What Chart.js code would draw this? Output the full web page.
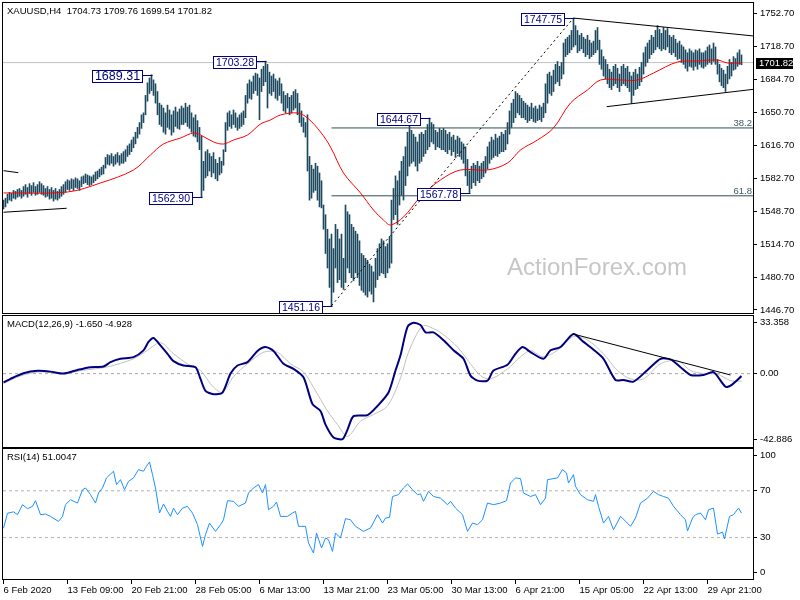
<!DOCTYPE html>
<html><head><meta charset="utf-8">
<script src="https://cdn.jsdelivr.net/npm/chart.js@4/dist/chart.umd.min.js"></script>
<style>
html,body{margin:0;padding:0;background:#fff;width:800px;height:600px;overflow:hidden}
canvas{position:absolute;left:0}
</style></head><body>
<canvas id="cMain" width="800" height="316" style="top:0px"></canvas>
<canvas id="cMacd" width="800" height="137" style="top:313px"></canvas>
<canvas id="cRsi" width="800" height="153" style="top:447px"></canvas>
<script>
// ---------- DATA ----------
const symbolName = 'XAUUSD,H4';
const lastOHLC = [1704.73, 1709.76, 1699.54, 1701.82];
const priceTicks = [1752.70,1718.70,1684.70,1650.70,1616.70,1582.70,1548.70,1514.70,1480.70,1446.70];
const xTickIdx = [0,32,64,96,128,160,192,224,256,288,320,352];
const xTickLabels = ['6 Feb 2020','13 Feb 09:00','20 Feb 21:00','28 Feb 05:00','6 Mar 13:00','13 Mar 21:00','23 Mar 05:00','30 Mar 13:00','6 Apr 21:00','15 Apr 05:00','22 Apr 13:00','29 Apr 21:00'];

const highs = [
1560,1562,1566,1568,1567,1570,1569,1571,1572,1570,
1574,1576,1573,1577,1575,1578,1574,1576,1579,1577,
1575,1572,1574,1571,1573,1570,1572,1569,1571,1574,
1576,1579,1581,1580,1582,1581,1583,1582,1580,1584,
1585,1587,1586,1585,1584,1586,1589,1590,1592,1594,
1596,1604,1607,1606,1608,1605,1607,1609,1606,1608,
1610,1612,1616,1618,1622,1625,1630,1635,1640,1648,
1650,1668,1681,1686,1689.31,1684,1680,1672,1660,1658,
1655,1650,1658,1653,1648,1652,1656,1651,1654,1657,
1655,1660,1656,1658,1650,1645,1648,1642,1635,1626,
1600,1610,1612,1608,1605,1609,1602,1598,1604,1600,
1612,1640,1650,1652,1648,1653,1650,1645,1648,1650,
1652,1668,1680,1684,1682,1688,1691,1690,1686,1695,
1698,1703.28,1700,1692,1688,1690,1685,1683,1686,1680,
1672,1668,1670,1666,1668,1672,1674,1670,1660,1652,
1645,1640,1648,1605,1596,1592,1598,1595,1588,1580,
1555,1545,1530,1520,1525,1510,1535,1530,1520,1525,
1500,1555,1548,1545,1535,1532,1528,1525,1518,1505,
1503,1500,1498,1494,1492,1486,1500,1510,1515,1520,
1518,1512,1515,1522,1560,1572,1585,1580,1590,1600,
1605,1615,1630,1640,1632,1628,1625,1620,1628,1630,
1628,1632,1638,1644.67,1640,1638,1632,1630,1634,1632,
1634,1632,1628,1630,1625,1627,1622,1626,1624,1620,
1618,1615,1602,1590,1595,1598,1596,1600,1595,1598,
1600,1605,1615,1620,1625,1622,1628,1624,1626,1630,
1628,1632,1640,1652,1660,1664,1672,1670,1668,1665,
1662,1660,1658,1656,1660,1655,1657,1654,1658,1656,
1660,1680,1690,1692,1688,1694,1700,1703,1698,1702,
1722,1726,1728,1730,1735,1747.75,1740,1735,1730,1732,
1728,1726,1730,1725,1722,1724,1735,1738,1725,1715,
1708,1705,1700,1695,1692,1698,1700,1696,1690,1698,
1700,1696,1698,1692,1688,1692,1695,1690,1697,1702,
1712,1718,1722,1725,1730,1728,1735,1740,1736,1732,
1738,1735,1737,1730,1728,1730,1726,1722,1724,1720,
1718,1715,1712,1716,1714,1712,1715,1714,1716,1712,
1712,1714,1718,1720,1716,1722,1718,1705,1700,1696,
1694,1690,1698,1705,1702,1708,1706,1712,1715,1709.76
];
const lows = [
1551,1553,1557,1560,1559,1562,1561,1563,1564,1562,
1564,1566,1563,1567,1565,1568,1565,1566,1568,1566,
1565,1563,1564,1561,1562,1559,1561,1560,1562,1564,
1566,1568,1571,1570,1572,1570,1573,1572,1570,1574,
1577,1578,1576,1575,1576,1578,1580,1582,1584,1586,
1587,1593,1597,1596,1598,1595,1597,1599,1596,1598,
1598,1600,1605,1607,1610,1614,1618,1624,1628,1634,
1640,1648,1662,1670,1673,1668,1660,1648,1638,1636,
1630,1628,1635,1633,1627,1630,1636,1634,1633,1638,
1638,1640,1636,1634,1630,1626,1625,1620,1612,1562.90,
1570,1583,1585,1590,1584,1588,1582,1580,1586,1588,
1596,1610,1632,1636,1634,1638,1635,1632,1634,1636,
1638,1645,1660,1665,1664,1670,1673,1668,1643,1672,
1678,1682,1655,1670,1668,1672,1665,1663,1668,1660,
1652,1650,1655,1648,1650,1653,1655,1648,1640,1636,
1630,1625,1590,1560,1562,1568,1570,1560,1553,1552,
1530,1505,1490,1470,1451.16,1465,1490,1475,1478,1470,
1468,1475,1490,1485,1480,1477,1485,1480,1472,1467,
1465,1462,1460,1466,1463,1455,1470,1478,1482,1485,
1484,1480,1485,1490,1495,1540,1545,1535,1555,1565,
1560,1575,1585,1595,1598,1600,1595,1590,1598,1600,
1605,1608,1612,1615,1620,1618,1612,1615,1614,1612,
1612,1610,1608,1612,1606,1610,1604,1608,1605,1602,
1598,1585,1575,1567.78,1572,1578,1575,1580,1578,1582,
1584,1588,1592,1598,1602,1604,1606,1605,1608,1610,
1610,1612,1618,1628,1635,1640,1645,1650,1648,1645,
1645,1643,1640,1642,1644,1641,1640,1642,1643,1641,
1645,1650,1660,1670,1668,1672,1680,1682,1678,1685,
1690,1708,1710,1712,1715,1718,1720,1712,1714,1716,
1712,1708,1710,1706,1708,1710,1712,1715,1700,1695,
1688,1685,1680,1676,1674,1678,1680,1676,1672,1678,
1680,1678,1676,1672,1660,1668,1674,1675,1678,1682,
1690,1698,1702,1706,1710,1712,1715,1718,1716,1714,
1716,1715,1718,1712,1710,1712,1708,1705,1706,1702,
1700,1696,1693,1698,1697,1694,1698,1695,1700,1697,
1696,1698,1700,1702,1700,1703,1700,1690,1682,1678,
1676,1672,1680,1685,1688,1694,1695,1698,1700,1699.54
];

// moving average (bar index, value)
const maX = [0,32,48.5,65,73.5,80,88.5,95,98.5,105,110,115,122,128.5,133.5,138.5,147,152,158.5,163.5,170,178.5,185,190,193.5,200,208.5,218.5,228.5,242,252,258.5,267,275,283.5,292,298.5,308.5,317,325,337,347,357,362,369];
const maY = [1567.4,1568.4,1577.7,1591.1,1606.6,1617.9,1624.1,1629.3,1627.2,1620,1617.9,1622,1627.2,1638.5,1642.7,1647.8,1649.9,1644.7,1630.3,1614.8,1588,1567.4,1549.8,1539.5,1534.4,1542.6,1563.3,1580.8,1591.1,1591.1,1598.3,1611.7,1622,1634.4,1660.2,1673.6,1683.9,1683.9,1683.9,1691.1,1702.5,1703.5,1704.5,1701.4,1701.4];

// labelled swing points
const markIdx = [74,131,99,164,213,233,285];
const markPrice = [1689.31,1703.28,1562.90,1451.16,1644.67,1567.78,1747.75];

// fibonacci levels
const fibNames = ['38.2','61.8'];
const fibLevels = [1634.45,1564.46];
const fibStartIdx = 164;

// trend lines [barIndex, price]
const trendUpper = [[285,1747.75],[375,1729.3]];
const trendLower = [[301.6,1656.4],[375,1674.3]];
const trendLeftA = [[0,1590.4],[7.4,1588.3]];
const trendLeftB = [[0,1547.5],[31.6,1551.6]];
const dashedSwing = [[164,1451.16],[285,1747.75]];

// MACD
const macdLast = [-1.650,-4.928];
const macdTicks = [33.358,0,-42.886];
const macdTickLabels = ['33.358','0.00','-42.886'];
const macdX = [0,3.5,10,17,23.5,30,37,43.5,50,53.5,58.5,65,70,72.5,75,77.5,82,85,90,96,98.5,101,105,109.5,113.5,117,122,127,131,135,140,145,150,154.5,158.5,161,165,169.5,172,175,182,187,192.5,196,198.5,202,205,208.5,211,215,220,225,230,233.5,237,242,245,252,256,259.5,263.5,270,273.5,278.5,285,290,295,300,306,310,315,322,328.5,333.5,338.5,343.5,350,355,361,363.5,369];
const macdY = [-5.8,-3.4,0.2,1.8,1.3,0,2.4,4.2,4.6,7.5,9.7,10.8,15.2,20.8,23.4,20,13,8.2,5.3,4.2,-3.5,-11.3,-13.5,-12.4,0,5.3,7.5,14.8,17.4,14.8,6.4,3.1,-2.4,-20,-24.5,-33.4,-41.8,-42.9,-36.7,-27.9,-27.2,-21.2,-12.4,2,12,30.7,33.36,31.8,27,27,21.9,15.3,9.7,-1.3,-4.6,-4.6,2,5.8,13,17.4,14.1,9.7,15.3,17.4,25.9,20.8,15.7,9.7,-4.2,-4.2,-5.3,2.4,9.7,9.3,4.2,-0.9,-0.9,0.9,-8.6,-7.9,-1.65];
const sigX = [0,8.5,18.5,28.5,40,52,65,72,78.5,85,92,98.5,105,109.5,115,122,130,137,143.5,150,155,162,167,172,178.5,185,192,198.5,202.5,209.5,215,220,227,233.5,238.5,243.5,252,258.5,263.5,270,277,285,292,300,307,313.5,320,328.5,337,343.5,350,357,363.5,369];
const sigY = [-6.5,-1.5,1.2,0,2.2,4.4,9.7,15.3,20.3,13,6.4,2,-9,-12.3,-2,6.4,14,14,6.4,1.1,-9,-24.5,-33.4,-41.2,-31.2,-26.8,-21.2,-3,14,31.2,29.5,25.5,17.4,6.4,-1.3,-3.5,3.1,11,15,11,15.3,24.3,22,13,2,-3.5,-3.5,6.4,8.6,2,0,-0.4,-4.6,-4.93];
const macdTrend = [[285,25.9],[363.5,-0.9]];

// RSI
const rsiLast = 51.0047;
const rsiTicks = [100,70,30,0];
const rsiLevels = [70,30];
const rsiX = [0,2,5,7,9.5,12,14.5,16,18.5,21,23.5,27.5,29.5,31,33.5,37,39.5,41,43.5,46,47.5,49.5,51.5,55,56.5,58.5,60.5,62.5,65,67.5,70,71.5,73,74.5,76,78,80,82,83.5,85,87,89.5,92,94.5,97,99.5,101,103,106,108.5,110,112,115,117.5,121,122.5,125,127.5,129.5,131,132.5,135,136.5,138.5,142,144.5,146,147.5,151,152.5,155,156.5,159,161,162.5,164.5,166,168.5,171,173.5,176,180,183.5,187,189.5,191,193,194.5,197.5,200,202,204.5,207,208.5,210,212.5,215,218.5,222,223.5,226,229.5,232,234.5,237,239.5,242,245,248.5,251.5,253.5,256,258.5,260,263.5,266,268.5,271,272,277,279.5,281.5,282.5,285,286,288.5,292,295,296,297.5,300,302.5,305,308.5,311,313.5,316,318.5,322,325,327.5,330,332.5,335,338.5,341,342,344.5,346,348.5,351,352.5,355,357,359.5,360.5,363,365,367.5,369];
const rsiY = [38,50.8,52,49.6,58.1,54.7,56.7,61.5,49.6,50.1,48.1,43.8,48.1,58.1,62.3,59.5,70.9,72.4,66.7,59.5,68.1,72.4,81,86.7,75.3,79.5,70.9,78.1,81,88.1,86.7,91,94.6,83.8,72.4,51,58.7,52.4,48.1,55.2,49.6,55.2,56.7,50.9,41,22.5,32.5,42.4,35.3,41,45.2,61.5,61,56.7,59.5,68.1,72.4,75.3,68.1,75.3,53.8,56.7,60.4,48.1,48.1,51,52.4,39.6,39.6,25.4,16.8,33.9,21.1,29.6,28.2,18.2,33.9,29.6,46.2,45.2,39.6,35.3,38.2,49.6,42.4,46.7,47.2,65.1,66.7,72.4,75.8,70.9,66.7,67.3,61,69.5,65.1,63.7,58.1,61,55.2,49.6,35.3,42.4,41,45.2,59.5,58.1,59.5,61.5,76.6,81,80.4,68.1,65.1,66.7,58.1,63.7,79.5,81,88.1,85.2,76.6,83.8,73.8,66.7,62.3,61,66.7,56.7,42.4,48.1,36.7,48.1,44,39.6,46.7,59.5,63.7,69.5,66.7,65.1,63.7,56.7,49.6,45.2,35.6,46.7,49.6,51,45.2,53.8,55.2,33,34.7,28.8,48.1,49.6,55.2,51];

// ---------- LAYOUT / STYLE ----------
const FAM = '"Liberation Sans", Arial, sans-serif';
const FONT_S = '9.5px ' + FAM;
const BAR_COLOR = '#1d4a60';
const X_MIN = -0.25, X_MAX = 374.75;
const MAIN_RANGE = [1443.6, 1763.3];
const MACD_RANGE = [-48.1, 37.75];
const RSI_RANGE = [-5.4, 105.7];
const markFontSize = [12.5,10.5,10.5,10.5,10.5,10.5,10.5];

Chart.defaults.font.family = FAM;
Chart.defaults.font.size = 9.5;
Chart.defaults.color = '#000';

const xy = (xs, ys) => xs.map((x, k) => ({x, y: ys[k]}));
const pairs = arr => arr.map(p => ({x: p[0], y: p[1]}));
function lineDS(points, color, width, extra) {
  return Object.assign({type: 'line', data: points, borderColor: color, borderWidth: width,
    pointRadius: 0, fill: false, tension: 0}, extra || {});
}
function zeroPad(s) { s.paddingLeft = 0; s.paddingRight = 0; s.paddingTop = 0; s.paddingBottom = 0; }
function xScale(show) {
  return {
    type: 'linear', min: X_MIN, max: X_MAX, offset: false, display: show,
    grid: {display: show, drawOnChartArea: false, drawTicks: true, tickLength: 5, color: '#000', offset: false},
    border: {display: show, color: '#000'},
    ticks: {display: show, autoSkip: false, maxRotation: 0, minRotation: 0, align: 'start', padding: 1,
      color: '#000', font: {size: 9.5}, callback: (v, i) => (xTickLabels[i] !== undefined ? xTickLabels[i] : '')},
    afterBuildTicks: s => { s.ticks = xTickIdx.map(v => ({value: v})); },
    afterFit: s => { s.height = show ? 21 : 0; zeroPad(s); }
  };
}
function yScale(range, ticks, labels) {
  return {
    type: 'linear', position: 'right', min: range[0], max: range[1], beginAtZero: false,
    grid: {drawOnChartArea: false, drawTicks: true, tickLength: 4, color: '#000'},
    border: {display: true, color: '#000'},
    ticks: {autoSkip: false, padding: 3, color: '#000', font: {size: 9.5}, callback: (v, i) => labels[i]},
    afterBuildTicks: s => { s.ticks = ticks.map(v => ({value: v})); },
    afterFit: s => { s.width = 47; zeroPad(s); }
  };
}
function frame(chart) {
  const {ctx, chartArea: a} = chart;
  ctx.save();
  ctx.strokeStyle = '#000'; ctx.lineWidth = 1;
  ctx.strokeRect(a.left - 0.5, a.top - 0.5, a.width + 1, a.height + 1);
  ctx.restore();
}
function headText(chart, txt) {
  const {ctx, chartArea: a} = chart;
  ctx.save();
  ctx.font = FONT_S; ctx.fillStyle = '#000'; ctx.textAlign = 'left'; ctx.textBaseline = 'alphabetic';
  ctx.fillText(txt, a.left + 4, a.top + 11);
  ctx.restore();
}
const baseOpts = {
  responsive: false, animation: false, events: [],
  plugins: {legend: {display: false}, tooltip: {enabled: false}}
};

// ---------- MAIN PRICE CHART ----------
const lastClose = lastOHLC[3];
const mainDecor = {
  id: 'mainDecor',
  beforeDatasetsDraw(chart) {
    const {ctx, chartArea: a} = chart;
    ctx.save();
    ctx.font = '24px ' + FAM; ctx.fillStyle = '#c6c6c6';
    ctx.textAlign = 'center'; ctx.textBaseline = 'alphabetic';
    ctx.fillText('ActionForex.com', a.right - 156, a.bottom - 38);
    ctx.restore();
  },
  afterDatasetsDraw(chart) {
    const {ctx, chartArea: a, scales: {x, y}} = chart;
    ctx.save();
    ctx.font = FONT_S; ctx.fillStyle = '#3b5a6a'; ctx.textAlign = 'right'; ctx.textBaseline = 'alphabetic';
    fibLevels.forEach((l, k) => ctx.fillText(fibNames[k], a.right - 1, y.getPixelForValue(l) - 2));
    markIdx.forEach((idx, k) => {
      const px = Math.round(x.getPixelForValue(idx));
      const py = Math.round(y.getPixelForValue(markPrice[k])) + 0.5;
      const fs = markFontSize[k];
      ctx.font = fs + 'px ' + FAM;
      const txt = markPrice[k].toFixed(2);
      const w = Math.round(ctx.measureText(txt).width) + 5;
      const h = 12;
      const bx = px - 10 - w + 0.5;
      const by = Math.round(py - h / 2) + 0.5;
      ctx.strokeStyle = '#000080'; ctx.lineWidth = 1;
      ctx.beginPath(); ctx.moveTo(bx + w, py); ctx.lineTo(px + 0.5, py); ctx.stroke();
      ctx.fillStyle = '#fff'; ctx.fillRect(bx, by, w, h);
      ctx.strokeRect(bx, by, w, h);
      ctx.fillStyle = '#000080'; ctx.textAlign = 'center'; ctx.textBaseline = 'middle';
      ctx.fillText(txt, bx + w / 2, by + h / 2 + 0.5);
    });
    ctx.restore();
  },
  afterDraw(chart) {
    const {ctx, chartArea: a, scales: {y}} = chart;
    frame(chart);
    headText(chart, symbolName + '  ' + lastOHLC.map(v => v.toFixed(2)).join(' '));
    const py = Math.round(y.getPixelForValue(lastClose));
    ctx.save();
    ctx.fillStyle = '#000'; ctx.fillRect(a.right + 3, py - 5, 37, 11);
    ctx.fillStyle = '#fff'; ctx.font = FONT_S; ctx.textAlign = 'left'; ctx.textBaseline = 'middle';
    ctx.fillText(lastClose.toFixed(2), a.right + 6, py + 0.5);
    ctx.restore();
  }
};
new Chart(document.getElementById('cMain'), {
  type: 'bar',
  data: {datasets: [
    lineDS([{x: X_MIN, y: lastClose}, {x: X_MAX, y: lastClose}], '#c0c0c0', 1, {order: 9}),
    {type: 'bar', data: highs.map((h, i) => ({x: i, y: [lows[i], h]})), backgroundColor: BAR_COLOR,
     borderWidth: 0, barThickness: 1, grouped: false, order: 5},
    lineDS(xy(maX, maY), '#ff0000', 1, {order: 4, tension: 0.35}),
    ...fibLevels.map(l => lineDS([{x: fibStartIdx, y: l}, {x: X_MAX, y: l}], '#2f4f4f', 1, {order: 3})),
    lineDS(pairs(trendUpper), '#000', 1, {order: 2}),
    lineDS(pairs(trendLower), '#000', 1, {order: 2}),
    lineDS(pairs(trendLeftA), '#000', 1, {order: 2}),
    lineDS(pairs(trendLeftB), '#000', 1, {order: 2}),
    lineDS(pairs(dashedSwing), '#000', 1, {order: 2, borderDash: [2, 3]})
  ]},
  options: Object.assign({}, baseOpts, {
    layout: {padding: {left: 3, right: 0, top: 3, bottom: 3}},
    scales: {x: xScale(false), y: yScale(MAIN_RANGE, priceTicks, priceTicks.map(v => v.toFixed(2)))}
  }),
  plugins: [mainDecor]
});

// ---------- MACD ----------
new Chart(document.getElementById('cMacd'), {
  type: 'line',
  data: {datasets: [
    lineDS([{x: X_MIN, y: 0}, {x: X_MAX, y: 0}], '#a8a8a8', 1, {borderDash: [3, 3], order: 9}),
    lineDS(xy(sigX, sigY), '#c0c0c0', 1, {order: 5, tension: 0.3}),
    lineDS(xy(macdX, macdY), '#000080', 2, {order: 4, tension: 0.25}),
    lineDS(pairs(macdTrend), '#000', 1, {order: 3})
  ]},
  options: Object.assign({}, baseOpts, {
    layout: {padding: {left: 3, right: 0, top: 3, bottom: 3}},
    scales: {x: xScale(false), y: yScale(MACD_RANGE, macdTicks, macdTickLabels)}
  }),
  plugins: [{id: 'macdDecor', afterDraw(chart) {
    frame(chart);
    headText(chart, 'MACD(12,26,9) ' + macdLast[0].toFixed(3) + ' ' + macdLast[1].toFixed(3));
  }}]
});

// ---------- RSI ----------
new Chart(document.getElementById('cRsi'), {
  type: 'line',
  data: {datasets: [
    ...rsiLevels.map(l => lineDS([{x: X_MIN, y: l}, {x: X_MAX, y: l}], '#b4b4b4', 1, {borderDash: [3, 3], order: 9})),
    lineDS(xy(rsiX, rsiY), '#1e90ff', 1, {order: 4})
  ]},
  options: Object.assign({}, baseOpts, {
    layout: {padding: {left: 3, right: 0, top: 2, bottom: 0}},
    scales: {x: xScale(true), y: yScale(RSI_RANGE, rsiTicks, rsiTicks.map(String))}
  }),
  plugins: [{id: 'rsiDecor', afterDraw(chart) {
    frame(chart);
    headText(chart, 'RSI(14) ' + rsiLast.toFixed(4));
  }}]
});
</script>
</body></html>
